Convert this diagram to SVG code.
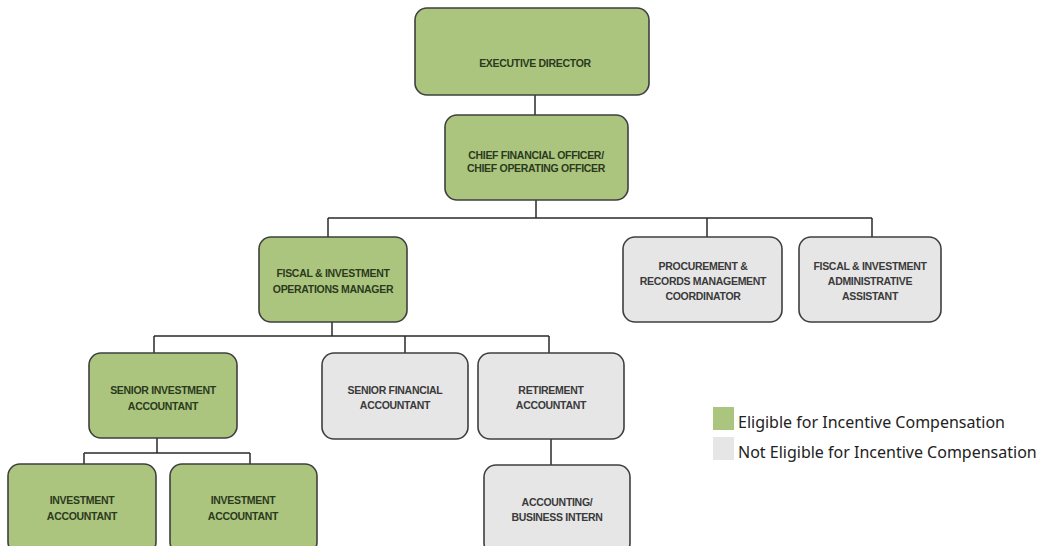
<svg xmlns="http://www.w3.org/2000/svg" width="1046" height="546" viewBox="0 0 1046 546">
<style>
.box{stroke:#3f3f3f;stroke-width:1.6}
.g{fill:#abc57f}
.n{fill:#e6e6e6}
.t{font-family:"Liberation Sans",Arial,sans-serif;font-size:10.5px;font-weight:bold;text-anchor:middle;letter-spacing:-0.3px}
.tg{fill:#2b3a1c}
.tn{fill:#3a3a3a}
.c{fill:none;stroke:#2a2a2a;stroke-width:1.5}
.lg{font-family:"Noto Sans","Open Sans",sans-serif;font-size:16px;fill:#222}
</style>
<rect width="1046" height="546" fill="#ffffff"/>
<g id="connectors">
<path class="c" d="M535 95V115M536 200V218M328 218H872M328 218V237M707 218V237M872 218V237"/>
<path class="c" d="M332 322V336M154 336H549M154 336V353M405 336V353M549 336V353"/>
<path class="c" d="M157 438V453M84 453H250M84 453V464M250 453V464M551 439V465"/>
</g>
<g id="executive-director">
<rect class="box g" x="415" y="8" width="234" height="87" rx="12"/>
<text class="t tg" x="535" y="67">EXECUTIVE DIRECTOR</text>
</g>
<g id="cfo">
<rect class="box g" x="445" y="115" width="183" height="85" rx="12"/>
<text class="t tg" x="536" y="159">CHIEF FINANCIAL OFFICER/</text>
<text class="t tg" x="536" y="172">CHIEF OPERATING OFFICER</text>
</g>
<g id="fiscal-ops-manager">
<rect class="box g" x="259" y="237" width="148" height="85" rx="12"/>
<text class="t tg" x="333" y="277">FISCAL &amp; INVESTMENT</text>
<text class="t tg" x="333" y="293">OPERATIONS MANAGER</text>
</g>
<g id="procurement">
<rect class="box n" x="623" y="237" width="159" height="85" rx="12"/>
<text class="t tn" x="703" y="270">PROCUREMENT &amp;</text>
<text class="t tn" x="703" y="285">RECORDS MANAGEMENT</text>
<text class="t tn" x="703" y="300">COORDINATOR</text>
</g>
<g id="admin-assistant">
<rect class="box n" x="799" y="237" width="142" height="85" rx="12"/>
<text class="t tn" x="870" y="270">FISCAL &amp; INVESTMENT</text>
<text class="t tn" x="870" y="285">ADMINISTRATIVE</text>
<text class="t tn" x="870" y="300">ASSISTANT</text>
</g>
<g id="senior-investment-accountant">
<rect class="box g" x="89" y="353" width="148" height="85" rx="12"/>
<text class="t tg" x="163" y="394">SENIOR INVESTMENT</text>
<text class="t tg" x="163" y="410">ACCOUNTANT</text>
</g>
<g id="senior-financial-accountant">
<rect class="box n" x="322" y="353" width="146" height="86" rx="12"/>
<text class="t tn" x="395" y="394">SENIOR FINANCIAL</text>
<text class="t tn" x="395" y="409">ACCOUNTANT</text>
</g>
<g id="retirement-accountant">
<rect class="box n" x="478" y="353" width="146" height="86" rx="12"/>
<text class="t tn" x="551" y="394">RETIREMENT</text>
<text class="t tn" x="551" y="409">ACCOUNTANT</text>
</g>
<g id="investment-accountant-1">
<rect class="box g" x="8" y="464" width="148" height="90" rx="12"/>
<text class="t tg" x="82" y="504">INVESTMENT</text>
<text class="t tg" x="82" y="520">ACCOUNTANT</text>
</g>
<g id="investment-accountant-2">
<rect class="box g" x="170" y="464" width="147" height="90" rx="12"/>
<text class="t tg" x="243" y="504">INVESTMENT</text>
<text class="t tg" x="243" y="520">ACCOUNTANT</text>
</g>
<g id="accounting-intern">
<rect class="box n" x="484" y="465" width="146" height="90" rx="12"/>
<text class="t tn" x="557" y="506">ACCOUNTING/</text>
<text class="t tn" x="557" y="521">BUSINESS INTERN</text>
</g>
<g id="legend">
<rect x="713" y="407" width="21" height="23" fill="#abc57f"/>
<text class="lg" x="738" y="428">Eligible for Incentive Compensation</text>
<rect x="713" y="437" width="21" height="23" fill="#e6e6e6"/>
<text class="lg" x="738" y="458">Not Eligible for Incentive Compensation</text>
</g>
</svg>
